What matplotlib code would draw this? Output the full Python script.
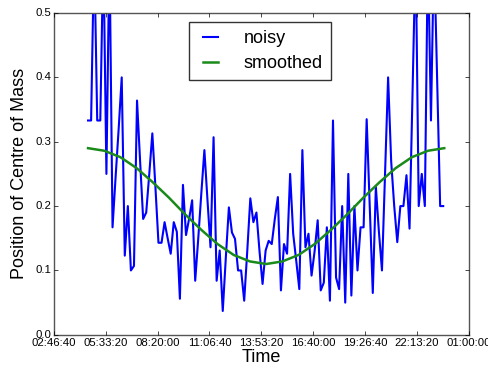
import numpy as np
import matplotlib
matplotlib.use("Agg")
import matplotlib.pyplot as plt
from matplotlib.ticker import FuncFormatter, MultipleLocator

# time axis in seconds, one reading every ~590 s
start_s = 16600
step_s = 590

# noisy centre-of-mass readings (values above 0.5 run off the top of the plot)
noisy = [0.333, 0.333, 0.6, 0.333, 0.333, 0.6, 0.25, 0.6, 0.167, 0.245,
         0.32, 0.40, 0.123, 0.2, 0.1, 0.107, 0.364, 0.27, 0.18, 0.19,
         0.25, 0.313, 0.23, 0.143, 0.143, 0.175, 0.15, 0.126, 0.175, 0.16,
         0.056, 0.233, 0.155, 0.18, 0.209, 0.084, 0.15, 0.22, 0.287, 0.21,
         0.136, 0.307, 0.084, 0.131, 0.037, 0.12, 0.198, 0.159, 0.149, 0.1,
         0.1, 0.053, 0.13, 0.212, 0.175, 0.19, 0.13, 0.079, 0.131, 0.146,
         0.141, 0.18, 0.214, 0.069, 0.141, 0.126, 0.25, 0.157, 0.115, 0.071,
         0.287, 0.136, 0.157, 0.092, 0.13, 0.178, 0.069, 0.081, 0.167, 0.053,
         0.333, 0.089, 0.071, 0.2, 0.05, 0.25, 0.061, 0.2, 0.1, 0.167,
         0.167, 0.335, 0.2, 0.065, 0.23, 0.16, 0.1, 0.25, 0.40, 0.27,
         0.2, 0.144, 0.2, 0.2, 0.248, 0.165, 0.38, 0.6, 0.2, 0.25,
         0.2, 0.6, 0.333, 0.6, 0.4, 0.2, 0.2]

# smoothed curve, sampled every 3120 s over the same span
smooth_start_s = 16600
smooth_step_s = 3120
smoothed = [0.290, 0.286, 0.276, 0.259, 0.237, 0.213, 0.187, 0.163, 0.141, 0.124,
            0.114, 0.110, 0.114, 0.124, 0.141, 0.163, 0.187, 0.213, 0.237, 0.259,
            0.276, 0.286, 0.290]

t_noisy = start_s + step_s * np.arange(len(noisy))
t_smooth = smooth_start_s + smooth_step_s * np.arange(len(smoothed))


def hms(x, pos):
    s = int(round(x)) % 86400
    return "%02d:%02d:%02d" % (s // 3600, (s % 3600) // 60, s % 60)


plt.style.use("classic")
plt.rcParams["font.family"] = ["Liberation Sans", "DejaVu Sans"]

fig = plt.figure(figsize=(4.89, 3.72), dpi=100)
ax = fig.add_axes([0.110, 0.100, 0.849, 0.865])

ax.plot(t_noisy, noisy, color="b", lw=1.5, label="noisy")
ax.plot(t_smooth, smoothed, color="#1a8a1a", lw=1.8, label="smoothed")

ax.set_xlim(10000, 90000)
ax.set_ylim(0.0, 0.5)
ax.xaxis.set_major_locator(MultipleLocator(10000))
ax.xaxis.set_major_formatter(FuncFormatter(hms))
ax.yaxis.set_major_locator(MultipleLocator(0.1))
ax.tick_params(labelsize=8.2, length=3, direction="in", pad=2)
for sp in ax.spines.values():
    sp.set_color("#555555")

ax.set_xlabel("Time", fontsize=13, labelpad=1)
ax.set_ylabel("Position of Centre of Mass", fontsize=13, labelpad=5)

leg = ax.legend(loc="upper center", fontsize=13, handlelength=1.45,
                borderpad=0.45, labelspacing=0.45, handletextpad=1.1,
                borderaxespad=0.0, bbox_to_anchor=(0.497, 0.972))
leg.get_frame().set_edgecolor("#333333")

fig.savefig("out.png", dpi=100, facecolor="white")
